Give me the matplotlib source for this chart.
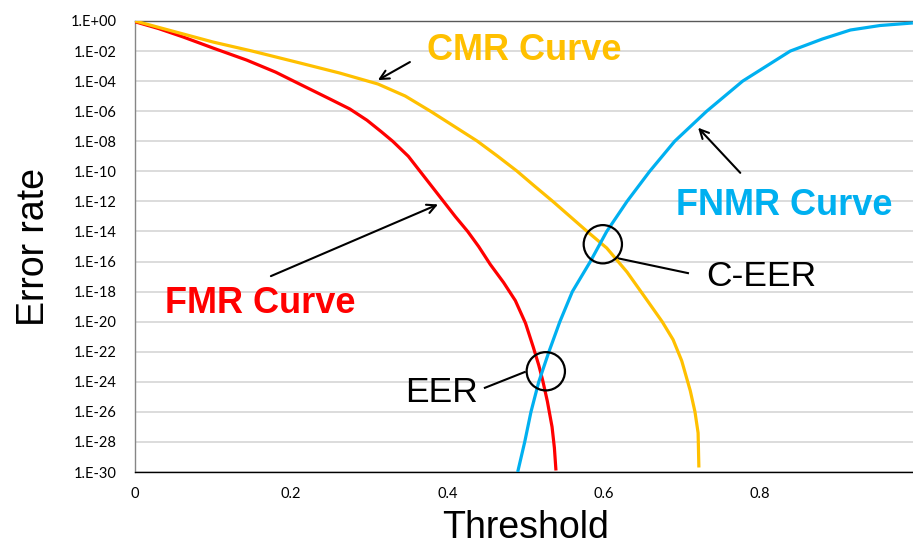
import matplotlib
matplotlib.use('Agg')

import matplotlib.pyplot as plt
import numpy as np
from matplotlib.ticker import FixedLocator, FuncFormatter, NullLocator

# threshold / log10(error rate) pairs for each curve
fmr_x = [0.0, 0.03, 0.0615, 0.10, 0.143, 0.18, 0.211, 0.25, 0.275, 0.297, 0.315, 0.33, 0.35,
         0.365, 0.38, 0.395, 0.41, 0.426, 0.44, 0.455, 0.472, 0.487, 0.50, 0.510, 0.517,
         0.522, 0.528, 0.534, 0.537, 0.539]
fmr_exp = [-0.05, -0.5, -1.06, -1.8, -2.6, -3.4, -4.2, -5.2, -5.85, -6.6, -7.35, -8.0, -9.0,
           -10.0, -11.0, -12.0, -13.0, -14.0, -15.0, -16.2, -17.4, -18.6, -20.1, -21.7, -22.9,
           -23.9, -25.3, -27.0, -28.4, -29.9]

cmr_x = [0.0, 0.05, 0.10, 0.15, 0.211, 0.262, 0.311, 0.346, 0.378, 0.41, 0.438, 0.464,
         0.489, 0.512, 0.535, 0.557, 0.579, 0.604, 0.63, 0.656, 0.675, 0.689, 0.70, 0.711,
         0.717, 0.721, 0.722]
cmr_exp = [0.0, -0.7, -1.4, -2.0, -2.79, -3.46, -4.19, -4.99, -5.99, -7.05, -7.98, -8.98,
           -9.98, -11.0, -12.0, -13.0, -14.0, -15.1, -16.7, -18.6, -20.0, -21.2, -22.6, -24.6,
           -26.0, -27.4, -29.7]

fnmr_x = [0.490, 0.499, 0.507, 0.517, 0.530, 0.544, 0.560, 0.583, 0.604, 0.630, 0.659,
          0.691, 0.732, 0.778, 0.839, 0.880, 0.916, 0.954, 0.996]
fnmr_exp = [-30.0, -28.0, -26.0, -24.0, -22.0, -20.0, -18.0, -16.0, -14.0, -12.0, -10.0,
            -8.0, -6.0, -4.0, -2.0, -1.2, -0.6, -0.3, -0.13]

y_tick_exp = list(range(0, -31, -2))
x_ticks = [0, 0.2, 0.4, 0.6, 0.8, 1]
x_tick_labels = ["0", "0.2", "0.4", "0.6", "0.8", "1"]

red = "#FF0000"
gold = "#FFC000"
blue = "#00B0F0"

fig = plt.figure(figsize=(9.13, 5.44), dpi=100)
ax = fig.add_axes([135 / 913, 1 - 472 / 544, 781 / 913, 451 / 544])

line_kw = dict(lw=2.3, solid_capstyle='butt', solid_joinstyle='round', zorder=3)
ax.plot(fmr_x, 10.0 ** np.array(fmr_exp), color=red, **line_kw)
ax.plot(cmr_x, 10.0 ** np.array(cmr_exp), color=gold, **line_kw)
ax.plot(fnmr_x, 10.0 ** np.array(fnmr_exp), color=blue, **line_kw)

ax.set_yscale('log')
ax.set_ylim(1e-30, 1)
ax.set_xlim(0, 1)
ax.yaxis.set_major_locator(FixedLocator([10.0 ** e for e in y_tick_exp]))
ax.yaxis.set_minor_locator(NullLocator())
ax.yaxis.set_major_formatter(FuncFormatter(lambda v, p: "1.E%+03d" % round(np.log10(v))))
ax.set_xticks(x_ticks)
ax.set_xticklabels(x_tick_labels)
ax.tick_params(axis='both', length=0, labelsize=10.5, colors='black')
ax.tick_params(axis='y', pad=13)
ax.tick_params(axis='x', pad=11)
for lab in ax.get_xticklabels() + ax.get_yticklabels():
    lab.set_family('Lato')

ax.grid(axis='y', color='#D9D9D9', lw=1.3)
ax.set_axisbelow(True)
ax.spines['right'].set_visible(False)
ax.spines['top'].set_color('#595959')
ax.spines['top'].set_linewidth(1.0)
ax.spines['left'].set_color('#868686')
ax.spines['left'].set_linewidth(1.0)
ax.spines['bottom'].set_color('black')
ax.spines['bottom'].set_linewidth(1.0)

ax.set_xlabel("Threshold", fontsize=27, family='Liberation Sans', labelpad=6)
ax.set_ylabel("Error rate", fontsize=27, family='Liberation Sans', labelpad=14)

# curve labels with arrows
arrow = dict(arrowstyle='->', color='black', lw=1.5, mutation_scale=16, shrinkA=0, shrinkB=0)
ax.text(0.499, 10 ** -1.93, "CMR Curve", color=gold, fontsize=26, fontweight='bold',
        family='Liberation Sans', ha='center', va='center')
ax.annotate("", xy=(0.311, 10 ** -3.93), xytext=(0.352, 10 ** -2.73), arrowprops=arrow)

ax.text(0.831, 10 ** -12.24, "FNMR Curve", color=blue, fontsize=26, fontweight='bold',
        family='Liberation Sans', ha='center', va='center')
ax.annotate("", xy=(0.721, 10 ** -7.1), xytext=(0.775, 10 ** -10.1), arrowprops=arrow)

ax.text(0.161, 10 ** -18.8, "FMR Curve", color=red, fontsize=26, fontweight='bold',
        family='Liberation Sans', ha='center', va='center')
ax.annotate("", xy=(0.388, 10 ** -12.2), xytext=(0.174, 10 ** -16.97), arrowprops=arrow)

# crossing points
ax.scatter([0.526, 0.599], [10 ** -23.3, 10 ** -14.85], s=760, facecolors='none',
           edgecolors='black', linewidths=1.6, zorder=4)
ax.text(0.392, 10 ** -24.7, "EER", fontsize=25.5, family='Liberation Sans', ha='center', va='center')
ax.plot([0.448, 0.499], [10 ** -24.4, 10 ** -23.35], color='black', lw=1.5)
ax.text(0.802, 10 ** -17.0, "C-EER", fontsize=25.5, family='Liberation Sans', ha='center', va='center')
ax.plot([0.708, 0.617], [10 ** -16.77, 10 ** -15.77], color='black', lw=1.5)

fig.savefig("out.png", dpi=100)
